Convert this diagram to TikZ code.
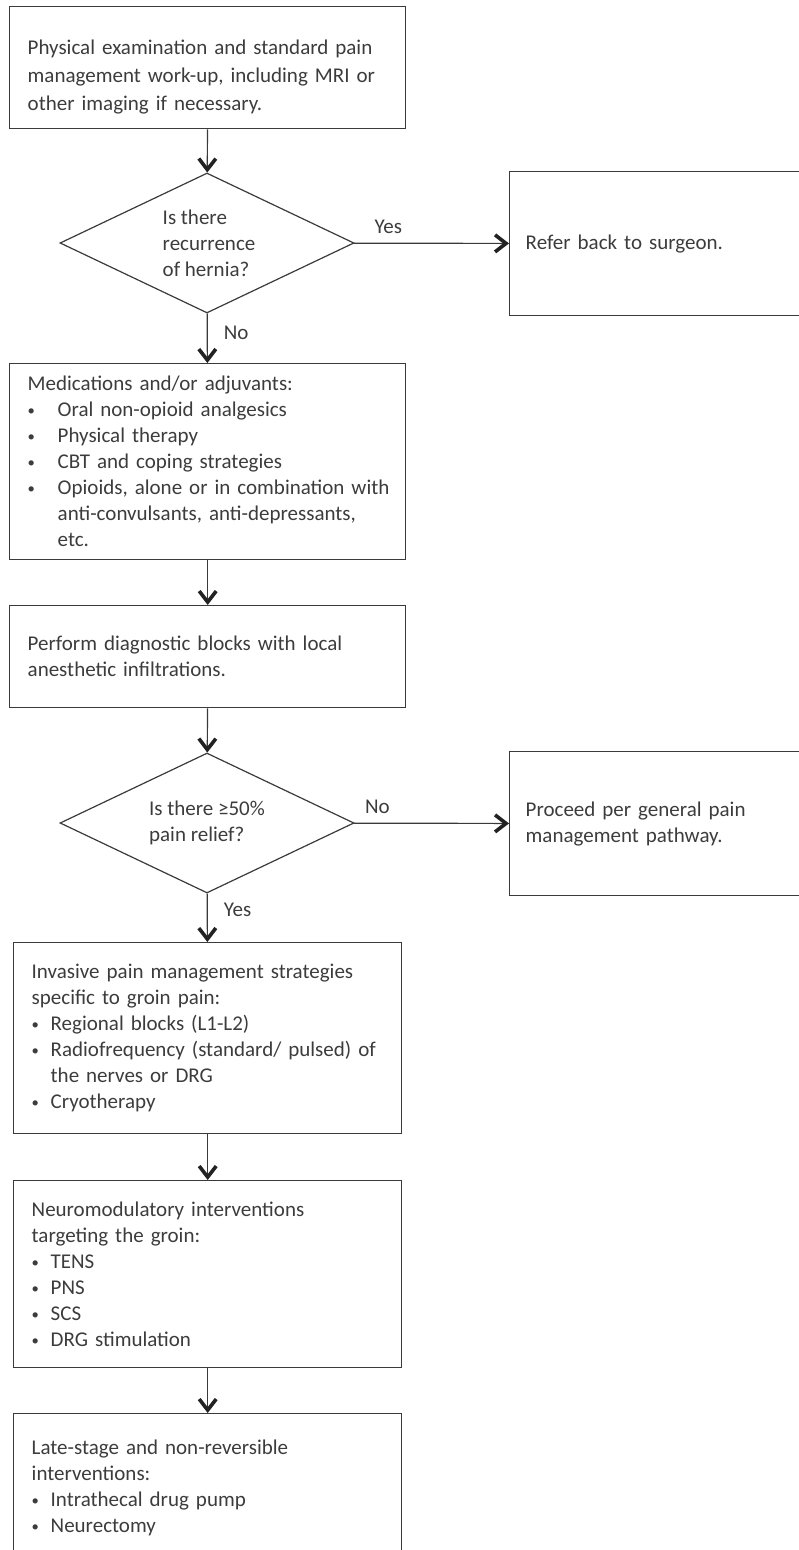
\documentclass[tikz,border=0pt]{standalone}
\usepackage{fontspec}
\setmainfont{Carlito}
\usepackage{tikz}
\usetikzlibrary{shapes.geometric,arrows.meta}

\definecolor{linegray}{HTML}{3A3A3A}
\definecolor{tipgray}{HTML}{222222}
\definecolor{textgray}{HTML}{3C3C3C}
\newcommand{\blt}[1]{\makebox[#1][l]{\raisebox{0.12ex}{\scalebox{0.7}{\textbullet}}}}
\newcommand{\hang}[1]{\hspace*{#1}}

\begin{document}
\begin{tikzpicture}[x=1pt,y=-1pt,
  font=\fontsize{21}{26}\selectfont,
  box/.style={draw=linegray, line width=1.4pt, rectangle, anchor=north west,
    align=left, inner xsep=18pt, inner ysep=0pt, text=textgray},
  decision/.style={draw=linegray, line width=1.2pt, diamond, aspect=2.1,
    inner sep=0pt, minimum width=294pt, minimum height=140pt, align=left, text=textgray},
  flow/.style={draw=linegray, line width=1.2pt,
    -{Straight Barb[length=11pt,width=17pt,line width=3.6pt,color=tipgray]}},
  lbl/.style={text=textgray, inner sep=2pt}]
  \def\W{799}    % page width (px)
  \def\H{1550}   % page height (px)
  \def\tw{360}   % text width, upper column
  \def\bw{352}   % text width, lower column

  \path[use as bounding box] (0,0) rectangle (\W,\H);
  \clip (0,0) rectangle (\W,\H);

  % Main column
  \node[box, text width=\tw, minimum height=122,
        font=\fontsize{21}{28}\selectfont] (exam) at (9,6)
    {\rule{0pt}{34pt}Physical examination and standard pain\\
     management work-up, including MRI or\\
     other imaging if necessary.};
  \node[decision] (hernia) at (207,243)
    {\hspace*{4pt}Is there\\ \hspace*{4pt}recurrence\\ \hspace*{4pt}of hernia?};
  \node[box, text width=\tw, minimum height=196] (meds) at (9,363)
    {Medications and/or adjuvants:\\
     \blt{30pt}Oral non-opioid analgesics\\
     \blt{30pt}Physical therapy\\
     \blt{30pt}CBT and coping strategies\\
     \mbox{\blt{30pt}Opioids, alone or in combination with}\\
     \hang{30pt}anti-convulsants, anti-depressants,\\
     \hang{30pt}etc.};
  \node[box, text width=\tw, minimum height=102] (blocks) at (9,605)
    {Perform diagnostic blocks with local\\
     anesthetic infiltrations.};
  \node[decision] (relief) at (207,823)
    {Is there ≥50\%\\ pain relief?};
  \node[box, text width=\bw, minimum height=191] (invasive) at (13,942)
    {Invasive pain management strategies\\
     specific to groin pain:\\
     \blt{19pt}Regional blocks (L1-L2)\\
     \mbox{\blt{19pt}Radiofrequency (standard/ pulsed) of}\\
     \hang{19pt}the nerves or DRG\\
     \blt{19pt}Cryotherapy};
  \node[box, text width=\bw, minimum height=187] (neuro) at (13,1180)
    {Neuromodulatory interventions\\
     targeting the groin:\\
     \blt{19pt}TENS\\
     \blt{19pt}PNS\\
     \blt{19pt}SCS\\
     \blt{19pt}DRG stimulation};
  \node[box, text width=\bw, minimum height=148] (late) at (13,1413)
    {Late-stage and non-reversible\\
     interventions:\\
     \blt{19pt}Intrathecal drug pump\\
     \blt{19pt}Neurectomy};

  % Side exits (run off the page)
  \node[box, inner xsep=16pt, text width=400, minimum height=144] (surgeon) at (509,171)
    {Refer back to surgeon.};
  \node[box, inner xsep=16pt, text width=400, minimum height=144] (general) at (509,751)
    {Proceed per general pain\\ management pathway.};

  % Arrows
  \draw[flow] (exam) -- (hernia);
  \draw[flow] (hernia) -- node[lbl, pos=0.22, above=7pt] (yes1) {Yes} (surgeon);
  \draw[flow] (hernia) -- node[lbl, pos=0.4, right=14pt] (no1) {No} (meds);
  \draw[flow] (meds) -- (blocks);
  \draw[flow] (blocks) -- (relief);
  \draw[flow] (relief) -- node[lbl, pos=0.15, above=7pt] (no2) {No} (general);
  \draw[flow] (relief) -- node[lbl, pos=0.33, right=14pt] (yes2) {Yes} (invasive);
  \draw[flow] (invasive) -- (neuro);
  \draw[flow] (neuro) -- (late);
\end{tikzpicture}
\end{document}
